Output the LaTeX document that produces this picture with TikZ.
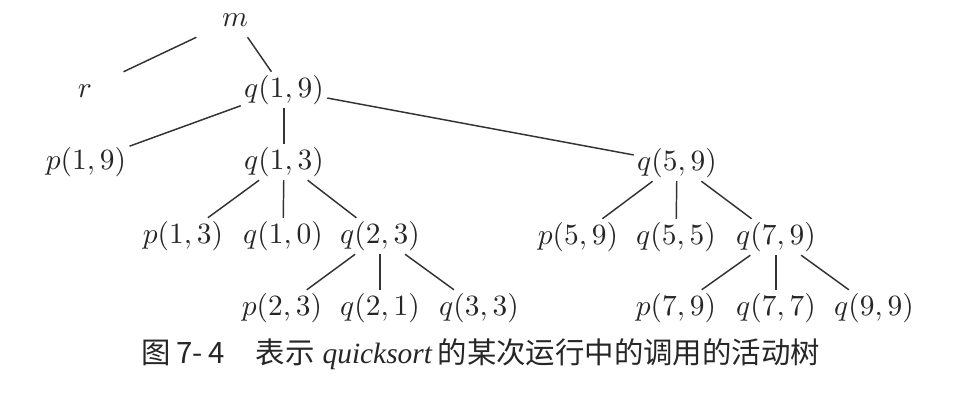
\documentclass[tikz,border=0pt]{standalone}
\usepackage{fontspec}
\newfontfamily\cjk{Noto Sans CJK SC}
\newfontfamily\capit{Liberation Serif}
\begin{document}
\begin{tikzpicture}[x=0.34pt,y=-0.34pt,
  tn/.style={inner sep=1pt,minimum width=27.4pt,minimum height=12pt,text height=7.5pt,text depth=2.5pt,text=black!85},
  ed/.style={line width=0.5pt,draw=black!80},
  cp/.style={anchor=base west,inner sep=0pt,text=black!85,font=\fontsize{10pt}{12pt}\selectfont\cjk}]
\useasboundingbox (0,0) rectangle (966,400);
\node[tn] (m) at (235,19) {$m$};
\node[tn] (r) at (85,90) {$r$};
\node[tn] (q19) at (284,90) {$q(1,9)$};
\node[tn] (p19) at (86,162) {$p(1,9)$};
\node[tn] (q13) at (284,162) {$q(1,3)$};
\node[tn] (q59) at (677,163) {$q(5,9)$};
\node[tn] (p13) at (183,236) {$p(1,3)$};
\node[tn] (q10) at (283,236) {$q(1,0)$};
\node[tn] (q23) at (380,236) {$q(2,3)$};
\node[tn] (p59) at (578,237) {$p(5,9)$};
\node[tn] (q55) at (676,237) {$q(5,5)$};
\node[tn] (q79) at (776,237) {$q(7,9)$};
\node[tn] (p23) at (282,308) {$p(2,3)$};
\node[tn] (q21) at (380,308) {$q(2,1)$};
\node[tn] (q33) at (479,308) {$q(3,3)$};
\node[tn] (p79) at (676,308) {$p(7,9)$};
\node[tn] (q77) at (776,308) {$q(7,7)$};
\node[tn] (q99) at (874,308) {$q(9,9)$};
\draw[ed] (m) -- (r);
\draw[ed] (m) -- (q19);
\draw[ed] (q19) -- (p19);
\draw[ed] (q19) -- (q13);
\draw[ed] (q19) -- (q59);
\draw[ed] (q13) -- (p13);
\draw[ed] (q13) -- (q10);
\draw[ed] (q13) -- (q23);
\draw[ed] (q23) -- (p23);
\draw[ed] (q23) -- (q21);
\draw[ed] (q23) -- (q33);
\draw[ed] (q59) -- (p59);
\draw[ed] (q59) -- (q55);
\draw[ed] (q59) -- (q79);
\draw[ed] (q79) -- (p79);
\draw[ed] (q79) -- (q77);
\draw[ed] (q79) -- (q99);
\node[cp] (c1) at (141,363) {图};
\node[cp] (c2) at (176,363) {7-\,4};
\node[cp] (c3) at (255,363) {表示};
\node[cp,font=\fontsize{10pt}{12pt}\selectfont\capit\itshape] (c4) at (322,363) {quicksort};
\node[cp] (c5) at (437,363) {的某次运行中的调用的活动树};
\end{tikzpicture}
\end{document}
